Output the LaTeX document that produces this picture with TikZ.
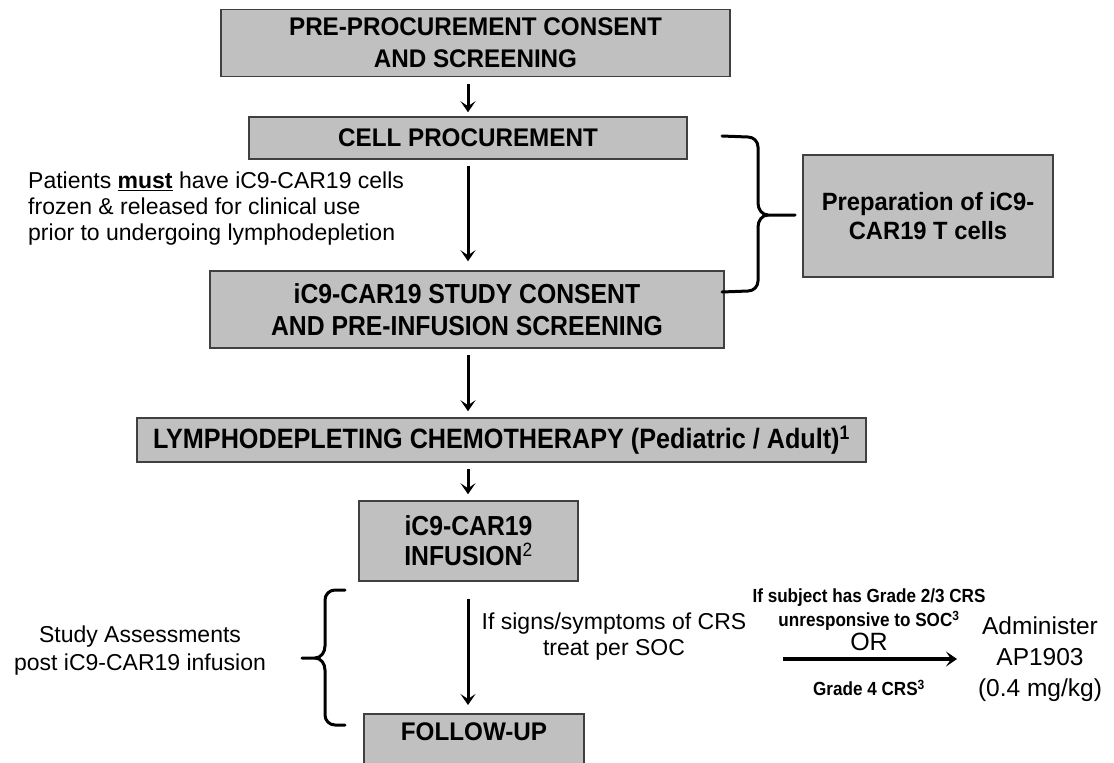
\documentclass[tikz,border=0pt]{standalone}
\usepackage{fontspec}
\setmainfont{Liberation Sans}
\newfontfamily\narrowfont[FakeStretch=0.9]{Liberation Sans}
\newfontfamily\semifont[FakeStretch=0.95]{Liberation Sans}
\usetikzlibrary{arrows.meta}
\definecolor{boxfill}{RGB}{192,192,192}
\definecolor{boxline}{RGB}{64,64,64}
\begin{document}
\begin{tikzpicture}[x=1pt,y=-1pt,
  graybox/.style={draw=boxline, line width=1.5pt, fill=boxfill, inner sep=0pt, align=center},
  arr/.style={line width=3pt, -{Stealth[length=11pt,width=15pt,inset=5pt]}},
  bracepath/.style={line width=3pt, line cap=round, line join=round},
  hbig/.style={font=\fontsize{25.5}{32}\selectfont\semifont\bfseries},
  hnarrow/.style={font=\fontsize{27.5}{32}\selectfont\narrowfont\bfseries},
  plain/.style={font=\fontsize{23}{26}\selectfont, inner sep=0pt},
  small/.style={font=\fontsize{19}{20}\selectfont\narrowfont\bfseries, inner sep=0pt}
]
\useasboundingbox (0,0) rectangle (1114,763);
\clip (0,0) rectangle (1114,763);

% boxes
\node[graybox, hbig, minimum width=509pt, minimum height=67pt] (box1) at (475.5,43)
  {PRE-PROCUREMENT CONSENT\\AND SCREENING};
\node[graybox, hbig, minimum width=438pt, minimum height=42pt] (box2) at (468,138)
  {CELL PROCUREMENT};
\node[graybox, hnarrow, minimum width=514pt, minimum height=77pt] (box3) at (467,309.5)
  {iC9-CAR19 STUDY CONSENT\\AND PRE-INFUSION SCREENING};
\node[graybox, font=\fontsize{25}{29}\selectfont\semifont\bfseries, minimum width=250pt, minimum height=122pt] (prep) at (928,216)
  {Preparation of iC9-\\CAR19 T cells};
\node[graybox, font=\fontsize{28}{30}\selectfont\narrowfont\bfseries, minimum width=729pt, minimum height=44pt] (lympho) at (501.5,440)
  {LYMPHODEPLETING CHEMOTHERAPY (Pediatric / Adult)\textsuperscript{1}};
\node[graybox, font=\fontsize{27.5}{30}\selectfont\narrowfont\bfseries, minimum width=219pt, minimum height=80pt] (infusion) at (468.5,541)
  {iC9-CAR19\\INFUSION\textsuperscript{\mdseries 2}};
\node[graybox, font=\fontsize{25.5}{30}\selectfont\semifont\bfseries, anchor=north, minimum width=220pt, inner ysep=4pt, text height=23pt, text depth=32pt] (follow) at (474,713)
  {FOLLOW-UP};

% vertical arrows
\draw[arr] (box1.south -| box2.north) ++(0,7) -- ([yshift=4pt]box2.north);
\draw[arr] (box2.south) ++(0,6) -- ([yshift=9pt]box3.north -| box2.south);
\draw[arr] (box3.south -| box2.south) ++(0,6) -- ([yshift=6pt]lympho.north -| box2.south);
\draw[arr] (lympho.south -| box2.south) ++(0,6) -- ([yshift=6pt]infusion.north -| box2.south);
\draw[arr] (infusion.south -| box2.south) ++(0,17) -- ([yshift=8pt]follow.north -| box2.south);

% side texts
\node[plain, anchor=west, align=left] (patients) at (28,209)
  {Patients \underline{\textbf{must}} have iC9-CAR19 cells\\frozen \& released for clinical use\\prior to undergoing lymphodepletion};
\node[plain, align=center, font=\fontsize{23}{28}\selectfont] (study) at (140,651)
  {Study Assessments\\post iC9-CAR19 infusion};
\node[plain, align=center] (signs) at (614,637)
  {If signs/symptoms of CRS\\treat per SOC};
\node[plain, align=center, font=\fontsize{24.5}{31}\selectfont] (admin) at (1040,659)
  {Administer\\AP1903\\(0.4 mg/kg)};

% right brace
\coordinate (rb1) at (722,136);
\coordinate (rb2) at (722,292);
\coordinate (rbtip) at (795,215);
\draw[bracepath] (rb1) -- (748,137) to[out=0,in=90] (758,147) -- (758,203)
  to[out=-90,in=180] (768,215) -- (rbtip);
\draw[bracepath] (768,215) to[out=180,in=90] (758,227) -- (758,281)
  to[out=-90,in=0] (748,291) -- (rb2);

% left brace
\coordinate (lb1) at (345,590);
\coordinate (lb2) at (345,725);
\coordinate (lbtip) at (302,658);
\draw[bracepath] (lb1) -- (335,590) to[out=180,in=90] (325,600) -- (325,646)
  to[out=-90,in=0] (315,658) -- (lbtip);
\draw[bracepath] (315,658) to[out=0,in=90] (325,670) -- (325,715)
  to[out=-90,in=180] (335,725) -- (lb2);

% horizontal arrow and its labels
\coordinate (h1) at (783,659);
\coordinate (h2) at (957,659);
\draw[arr, line width=3.5pt] (h1) -- (h2);
\node[small] (subj) at (869,598) {If subject has Grade 2/3 CRS};
\node[small] (unresp) at (869,621) {unresponsive to SOC\textsuperscript{3}};
\node[plain, font=\fontsize{25}{26}\selectfont] (or) at (869,642) {OR};
\node[small] (grade4) at (869,688) {Grade 4 CRS\textsuperscript{3}};
\end{tikzpicture}
\end{document}
